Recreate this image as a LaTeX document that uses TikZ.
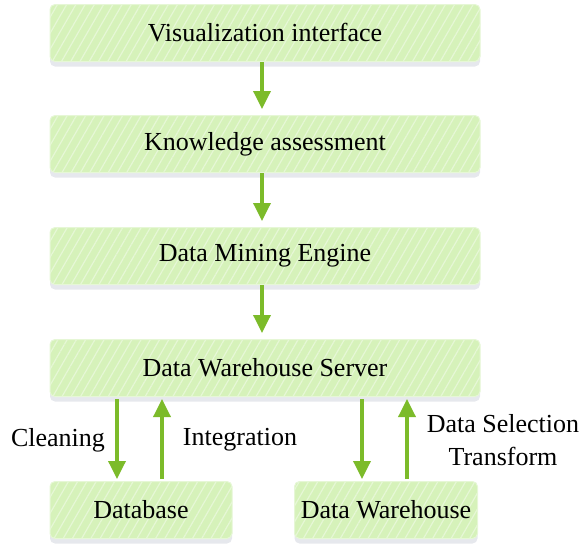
\documentclass[tikz,border=0pt]{standalone}
\usepackage{fontspec}
\setmainfont{Liberation Serif}
\usetikzlibrary{arrows.meta,patterns.meta,shadows}

\definecolor{boxgreen}{HTML}{D6F2BA}
\definecolor{stripegreen}{HTML}{E6F7D6}
\definecolor{arrowgreen}{HTML}{7CBB2A}
\definecolor{shadowgray}{HTML}{C8CCD6}

\tikzset{
  stage/.style={draw=stripegreen, line width=1pt, rounded corners=5pt, fill=boxgreen,
    minimum height=57pt, font=\fontsize{26}{30}\selectfont,
    drop shadow={shadow xshift=0pt, shadow yshift=-5pt, fill=shadowgray, opacity=0.45},
    postaction={pattern={Lines[angle=60,distance=8pt,line width=1.2pt]}, pattern color=stripegreen}},
  flow/.style={arrowgreen, line width=3.5pt, -{Triangle[length=18pt,width=17pt]}},
  lbl/.style={font=\fontsize{26}{33}\selectfont, align=center}
}

\begin{document}
\begin{tikzpicture}[x=1pt,y=-1pt]
\useasboundingbox (0,0) rectangle (582,552);

\node[stage, minimum width=430pt] (vis) at (265,33) {Visualization interface};
\node[stage, minimum width=430pt] (know) at (265,144) {Knowledge assessment};
\node[stage, minimum width=430pt] (engine) at (265,256) {Data Mining Engine};
\node[stage, minimum width=430pt] (server) at (265,368) {Data Warehouse Server};
\node[stage, minimum width=182pt] (db) at (141,510) {Database};
\node[stage, minimum width=183pt] (dw) at (386,510) {Data Warehouse};

\draw[flow, shorten >=6pt] (vis.south -| 262,0) -- (know.north -| 262,0);
\draw[flow, shorten >=6pt] (know.south -| 262,0) -- (engine.north -| 262,0);
\draw[flow, shorten >=6pt] (engine.south -| 262,0) -- (server.north -| 262,0);

\draw[flow, shorten <=2pt, shorten >=2pt] (server.south -| 117,0) -- (db.north -| 117,0);
\draw[flow, shorten <=2pt, shorten >=2pt] (db.north -| 162,0) -- (server.south -| 162,0);
\draw[flow, shorten <=2pt, shorten >=2pt] (server.south -| 362,0) -- (dw.north -| 362,0);
\draw[flow, shorten <=2pt, shorten >=2pt] (dw.north -| 407,0) -- (server.south -| 407,0);

\node[lbl] (clean) at (58,440) {Cleaning};
\node[lbl] (integ) at (240,440) {Integration};
\node[lbl] (select) at (503,440) {Data Selection\\Transform};

\end{tikzpicture}
\end{document}
